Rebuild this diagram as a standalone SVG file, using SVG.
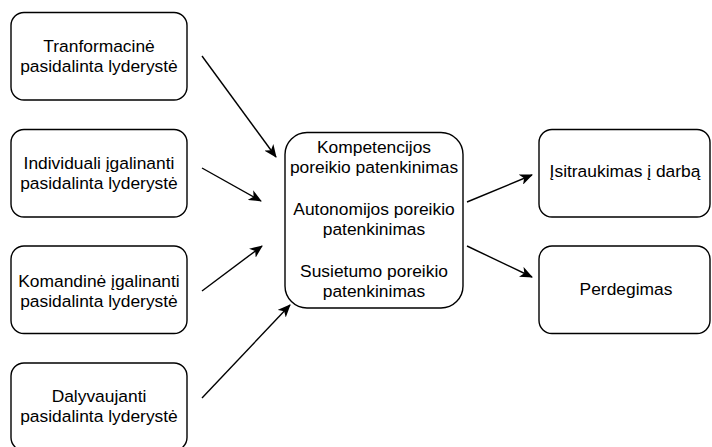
<svg xmlns="http://www.w3.org/2000/svg" width="712" height="447" viewBox="0 0 712 447">
<style>
.box{fill:#fff;stroke:#000;stroke-width:1.4}
.t{font-family:"Liberation Sans",Arial,sans-serif;font-size:17.4px;fill:#000;text-anchor:middle}
.c{stroke:#000;stroke-width:1.4;fill:none;marker-end:url(#ah)}
</style>
<defs>
<marker id="ah" viewBox="0 0 13 11" refX="12" refY="5.5" markerWidth="13" markerHeight="11" markerUnits="userSpaceOnUse" orient="auto">
<path d="M0,0 L13,5.5 L0,11 L3.5,5.5 Z" fill="#000"/>
</marker>
</defs>
<g id="n1"><rect class="box" x="11" y="12.5" width="176" height="87.5" rx="13"/>
<text class="t" x="99" y="52">Tranformacinė</text><text class="t" x="99" y="72">pasidalinta lyderystė</text></g>
<g id="n2"><rect class="box" x="11" y="129.5" width="176" height="87.5" rx="13"/>
<text class="t" x="99" y="169">Individuali įgalinanti</text><text class="t" x="99" y="189">pasidalinta lyderystė</text></g>
<g id="n3"><rect class="box" x="11" y="246" width="176" height="87.5" rx="13"/>
<text class="t" x="99" y="286.5">Komandinė įgalinanti</text><text class="t" x="99" y="306.5">pasidalinta lyderystė</text></g>
<g id="n4"><rect class="box" x="11" y="363" width="176" height="87.5" rx="13"/>
<text class="t" x="99" y="402">Dalyvaujanti</text><text class="t" x="99" y="422">pasidalinta lyderystė</text></g>
<g id="center"><rect class="box" x="285" y="132.5" width="178" height="175.5" rx="22"/>
<text class="t" x="374" y="153">Kompetencijos</text><text class="t" x="374" y="173">poreikio patenkinimas</text>
<text class="t" x="374" y="215">Autonomijos poreikio</text><text class="t" x="374" y="235">patenkinimas</text>
<text class="t" x="374" y="276.5">Susietumo poreikio</text><text class="t" x="374" y="296.5">patenkinimas</text></g>
<g id="r1"><rect class="box" x="539" y="129.5" width="171" height="87.5" rx="13"/>
<text class="t" x="625" y="177">Įsitraukimas į darbą</text></g>
<g id="r2"><rect class="box" x="539" y="246" width="171" height="87.5" rx="13"/>
<text class="t" x="626" y="295">Perdegimas</text></g>
<g id="connectors">
<line class="c" x1="202" y1="56" x2="276" y2="157"/>
<line class="c" x1="202" y1="168" x2="261" y2="201"/>
<line class="c" x1="202" y1="291" x2="262" y2="246"/>
<line class="c" x1="202" y1="398" x2="290" y2="305"/>
<line class="c" x1="467" y1="202" x2="532" y2="175"/>
<line class="c" x1="467" y1="246" x2="532" y2="277"/>
</g>
</svg>
